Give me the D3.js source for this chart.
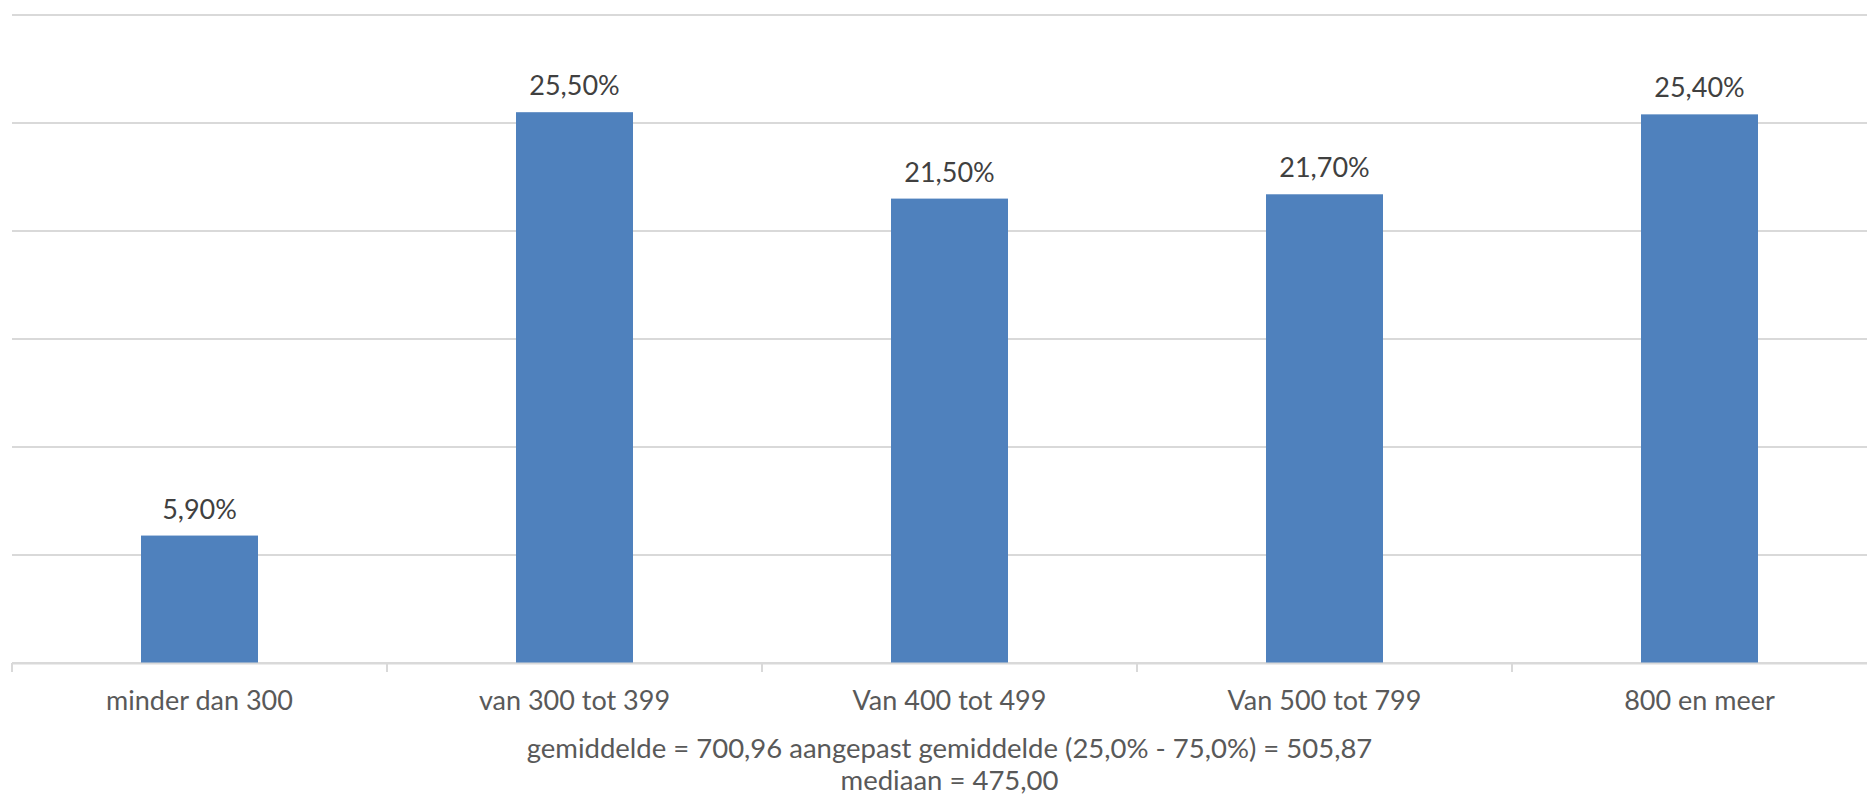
<!DOCTYPE html>
<html>
<head>
<meta charset="utf-8">
<script src="https://cdn.jsdelivr.net/npm/d3@7"></script>
<style>
  body { margin: 0; background: #fff; }
  text { font-family: Lato, "Open Sans", sans-serif; }
</style>
</head>
<body>
<svg id="chart" width="1867" height="796"></svg>
<script>
// data
var categories = ["minder dan 300", "van 300 tot 399", "Van 400 tot 499", "Van 500 tot 799", "800 en meer"];
var values = [5.9, 25.5, 21.5, 21.7, 25.4];
var yTicks = [0, 5, 10, 15, 20, 25, 30];
var footer = ["gemiddelde = 700,96 aangepast gemiddelde (25,0% - 75,0%) = 505,87", "mediaan = 475,00"];

var svg = d3.select("#chart");
var plotLeft = 12, plotRight = 1887, plotTop = 15, plotBottom = 663;

var nl = d3.formatLocale({decimal: ",", thousands: ".", grouping: [3], currency: ["", "€"]});
var fmt = nl.format(".2f");

var x = d3.scaleBand()
  .domain(categories)
  .range([plotLeft, plotRight])
  .paddingInner(0.688)
  .paddingOuter(0.344);

var y = d3.scaleLinear()
  .domain([0, 30])
  .range([plotBottom, plotTop]);

// gridlines
svg.append("g")
  .selectAll("line")
  .data(yTicks)
  .enter()
  .append("line")
  .attr("x1", plotLeft)
  .attr("x2", plotRight)
  .attr("y1", function(d) { return y(d); })
  .attr("y2", function(d) { return y(d); })
  .attr("stroke", "#d9d9d9")
  .attr("stroke-width", 2);

// bars
svg.append("g")
  .selectAll("rect")
  .data(values)
  .enter()
  .append("rect")
  .attr("x", function(d, i) { return x(categories[i]); })
  .attr("width", x.bandwidth())
  .attr("y", function(d) { return y(d); })
  .attr("height", function(d) { return y(0) - y(d); })
  .attr("fill", "#4f81bd");

// value labels
svg.append("g")
  .selectAll("text")
  .data(values)
  .enter()
  .append("text")
  .attr("x", function(d, i) { return x(categories[i]) + x.bandwidth() / 2; })
  .attr("y", function(d) { return y(d) - 17; })
  .attr("text-anchor", "middle")
  .attr("font-size", "27px")
  .attr("fill", "#404040")
  .text(function(d) { return fmt(d) + "%"; });

// x axis
var xAxis = svg.append("g")
  .attr("transform", "translate(0," + plotBottom + ")")
  .call(d3.axisBottom(x).tickSize(0).tickPadding(28));
xAxis.select(".domain").attr("stroke", "#d9d9d9").attr("stroke-width", 2);
xAxis.selectAll("text")
  .attr("font-size", "27px")
  .attr("fill", "#595959")
  .attr("font-family", "Lato, 'Open Sans', sans-serif");

// category boundary ticks
var step = x.step();
svg.append("g")
  .selectAll("line")
  .data(d3.range(categories.length + 1))
  .enter()
  .append("line")
  .attr("x1", function(i) { return plotLeft + i * step; })
  .attr("x2", function(i) { return plotLeft + i * step; })
  .attr("y1", plotBottom)
  .attr("y2", plotBottom + 9)
  .attr("stroke", "#d9d9d9")
  .attr("stroke-width", 2);

// footer
svg.append("g")
  .selectAll("text")
  .data(footer)
  .enter()
  .append("text")
  .attr("x", (plotLeft + plotRight) / 2)
  .attr("y", function(d, i) { return 758 + i * 32; })
  .attr("text-anchor", "middle")
  .attr("font-size", "27.5px")
  .attr("fill", "#595959")
  .text(function(d) { return d; });
</script>
</body>
</html>
